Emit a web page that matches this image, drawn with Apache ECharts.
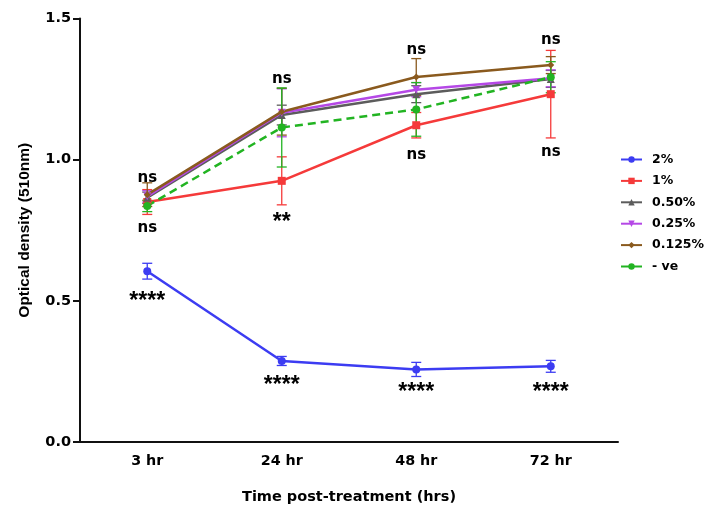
<!DOCTYPE html>
<html>
<head>
<meta charset="utf-8">
<script src="https://cdn.jsdelivr.net/npm/echarts@6/dist/echarts.min.js"></script>
<style>
  html, body { margin: 0; padding: 0; background: #fff; }
  #chart { width: 704px; height: 510px; }
</style>
</head>
<body>
<div id="chart"></div>
<script>
// data
const times = ['3 hr', '24 hr', '48 hr', '72 hr'];
const groups = ['2%', '1%', '0.50%', '0.25%', '0.125%', '- ve'];

const mean2 = [0.605, 0.287, 0.257, 0.268];
const err2 = [0.028, 0.016, 0.025, 0.021];
const mean1 = [0.850, 0.925, 1.122, 1.232];
const err1 = [0.044, 0.085, 0.045, 0.155];
const mean050 = [0.865, 1.158, 1.232, 1.286];
const err050 = [0.02, 0.035, 0.03, 0.03];
const mean025 = [0.870, 1.166, 1.248, 1.288];
const err025 = [0.02, 0.085, 0.025, 0.03];
const mean0125 = [0.876, 1.170, 1.293, 1.335];
const err0125 = [0.042, 0.083, 0.065, 0.03];
const meanNeg = [0.836, 1.114, 1.178, 1.292];
const errNeg = [0.02, 0.14, 0.095, 0.055];

// significance labels: text, time index, height (OD units)
const annotText = ['ns', 'ns', 'ns', '**', 'ns', 'ns', 'ns', 'ns', '****', '****', '****', '****'];
const annotCat  = [0, 0, 1, 1, 2, 2, 3, 3, 0, 1, 2, 3];
const annotY    = [0.935, 0.757, 1.285, 0.778, 1.387, 1.017, 1.423, 1.027, 0.498, 0.2, 0.175, 0.175];

const colors = ['#3c3cf2', '#f53a3a', '#5c5c5c', '#b548e6', '#8a5a1e', '#22b422'];
const symbols = ['circle', 'rect', 'triangle', 'path://M0,0 L10,0 L5,9 Z', 'diamond', 'circle'];
const means = [mean2, mean1, mean050, mean025, mean0125, meanNeg];
const errs = [err2, err1, err050, err025, err0125, errNeg];

const wide = '"DejaVu Sans", sans-serif';
const narrow = 'Arial, "Liberation Sans", sans-serif';

const chart = echarts.init(document.getElementById('chart'));

const series = [];
groups.forEach(function (g, i) {
  series.push({
    name: g,
    type: 'line',
    data: means[i],
    symbol: symbols[i],
    symbolSize: i === 4 ? 7 : 8,
    itemStyle: { color: colors[i] },
    lineStyle: { color: colors[i], width: 2.5, type: i === 5 ? [8, 5] : 'solid' },
    z: 3
  });
  // error bars (mean ± err) with caps
  series.push({
    name: g + ' err',
    type: 'custom',
    data: means[i].map(function (m, k) { return [k, m - errs[i][k], m + errs[i][k]]; }),
    renderItem: function (params, api) {
      const lo = api.coord([api.value(0), api.value(1)]);
      const hi = api.coord([api.value(0), api.value(2)]);
      const w = 5;
      const st = { stroke: colors[i], lineWidth: 1.3 };
      return {
        type: 'group',
        children: [
          { type: 'line', shape: { x1: lo[0], y1: lo[1], x2: hi[0], y2: hi[1] }, style: st },
          { type: 'line', shape: { x1: lo[0] - w, y1: lo[1], x2: lo[0] + w, y2: lo[1] }, style: st },
          { type: 'line', shape: { x1: hi[0] - w, y1: hi[1], x2: hi[0] + w, y2: hi[1] }, style: st }
        ]
      };
    },
    encode: { x: 0, y: [1, 2] },
    z: 2,
    silent: true
  });
});

series.push({
  name: 'annot',
  type: 'scatter',
  symbolSize: 0,
  itemStyle: { opacity: 1 },
  data: annotText.map(function (t, k) {
    const star = t !== 'ns';
    return {
      name: t,
      value: [annotCat[k], annotY[k]],
      label: star ? { fontFamily: narrow, fontSize: 23 } : { fontFamily: wide, fontSize: 15 }
    };
  }),
  label: {
    show: true,
    position: 'inside',
    formatter: '{b}',
    color: '#000',
    textBorderWidth: 0,
    fontWeight: 'bold'
  },
  silent: true,
  z: 5
});

chart.setOption({
  animation: false,
  backgroundColor: '#fff',
  grid: { left: 80, right: 86, top: 18.5, bottom: 67 },
  legend: {
    data: groups,
    orient: 'vertical',
    left: 615,
    top: 148,
    itemWidth: 21,
    itemHeight: 8,
    itemGap: 8.4,
    textStyle: { fontFamily: wide, fontWeight: 'bold', fontSize: 12.5, color: '#000', padding: [0, 0, 0, 5] }
  },
  xAxis: {
    type: 'category',
    data: times,
    boundaryGap: true,
    name: 'Time post-treatment (hrs)',
    nameLocation: 'middle',
    nameGap: 48,
    nameTextStyle: { fontFamily: wide, fontWeight: 'bold', fontSize: 14.5, color: '#000' },
    axisLine: { lineStyle: { color: '#111', width: 2 } },
    axisTick: { alignWithLabel: true, length: 6, lineStyle: { width: 2, color: '#111' } },
    axisLabel: { fontFamily: wide, fontWeight: 'bold', fontSize: 14.3, color: '#000', margin: 12 },
    splitLine: { show: false }
  },
  yAxis: {
    type: 'value',
    min: 0,
    max: 1.5,
    interval: 0.5,
    name: 'Optical density (510nm)',
    nameLocation: 'middle',
    nameGap: 47,
    nameTextStyle: { fontFamily: narrow, fontWeight: 'bold', fontSize: 15.5, color: '#000' },
    axisLine: { show: true, lineStyle: { color: '#111', width: 2 } },
    axisTick: { show: true, length: 7, lineStyle: { width: 2, color: '#111' } },
    axisLabel: {
      fontFamily: wide, fontWeight: 'bold', fontSize: 14.5, color: '#000', margin: 9,
      formatter: function (v) { return v.toFixed(1); }
    },
    splitLine: { show: false }
  },
  series: series
});
</script>
</body>
</html>
